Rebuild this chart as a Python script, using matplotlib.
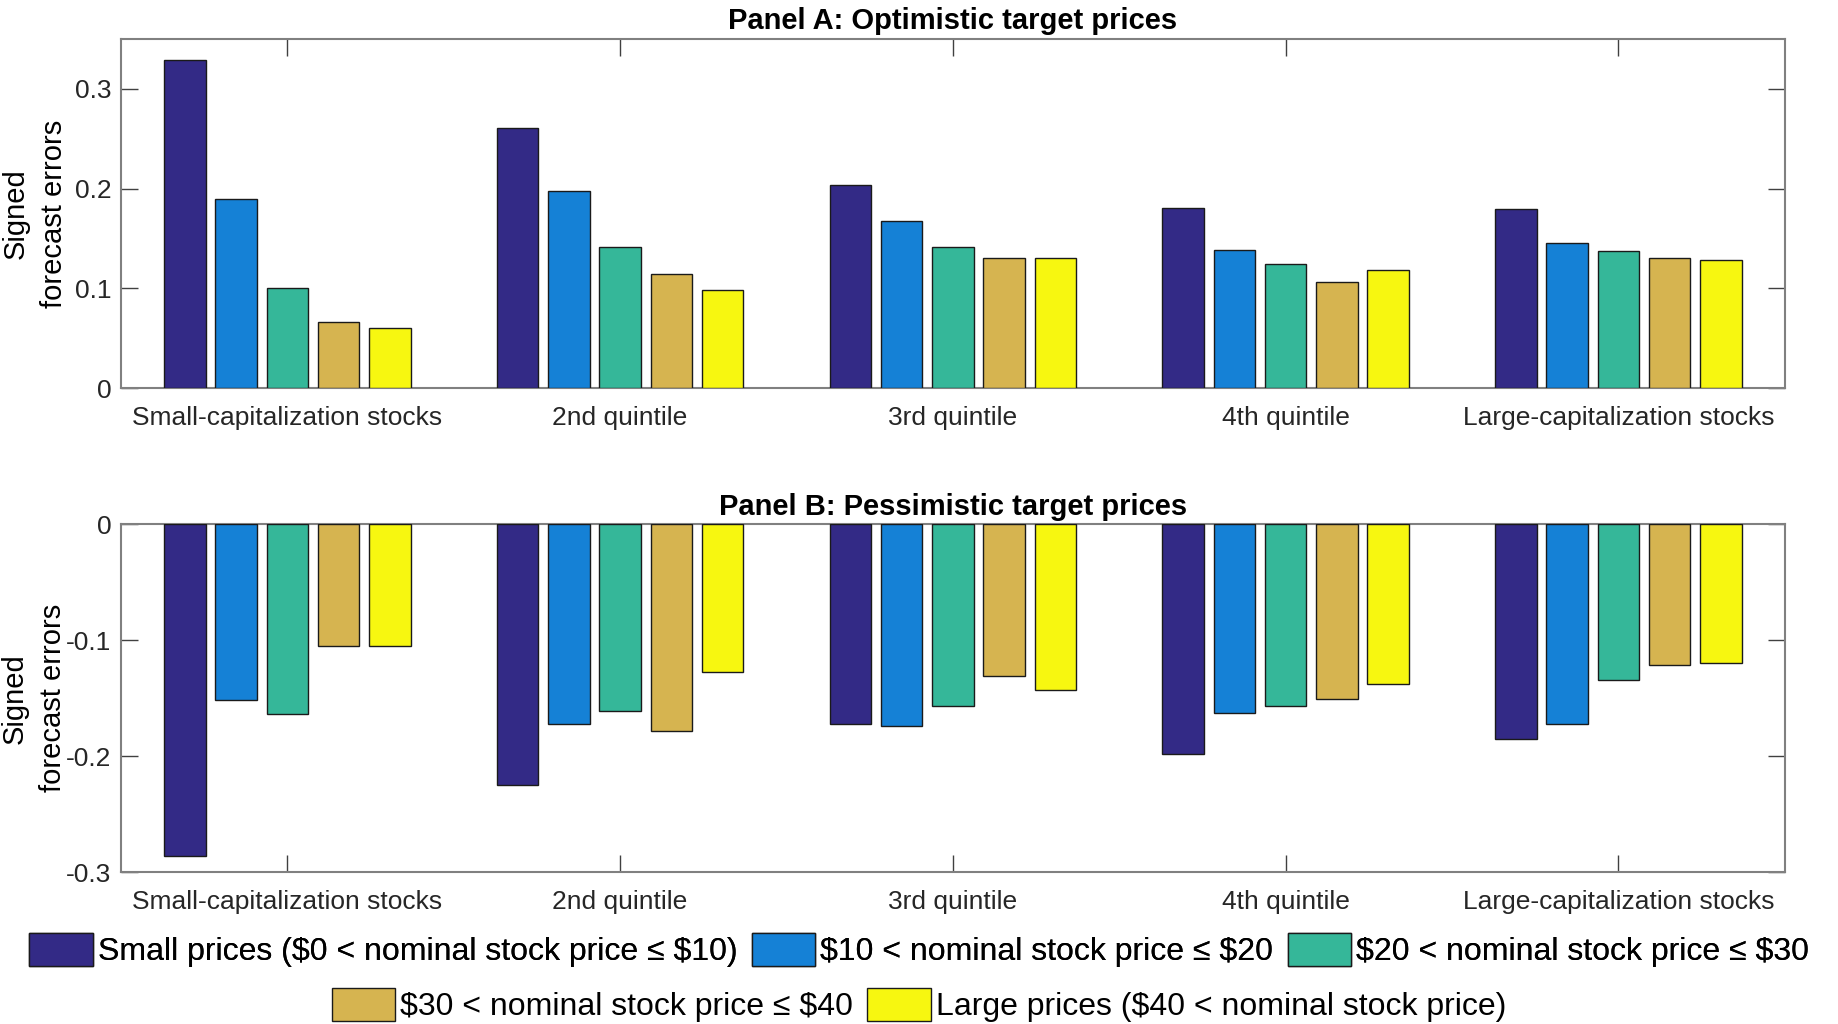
import numpy as np
import matplotlib
matplotlib.use('Agg')
import matplotlib.pyplot as plt

plt.rcParams['font.family'] = ['Liberation Sans', 'DejaVu Sans']
plt.rcParams['axes.unicode_minus'] = False

groups = ['Small-capitalization stocks', '2nd quintile', '3rd quintile',
          '4th quintile', 'Large-capitalization stocks']
series_names = [r'Small prices (\$0 < nominal stock price ≤ \$10)',
                r'\$10 < nominal stock price ≤ \$20',
                r'\$20 < nominal stock price ≤ \$30',
                r'\$30 < nominal stock price ≤ \$40',
                r'Large prices (\$40 < nominal stock price)']
colors = ['#332a86', '#1581d6', '#35b799', '#d6b450', '#f7f710']

# Panel A: optimistic target prices, one list per price bucket
opt_0_10 = [0.329, 0.261, 0.204, 0.181, 0.180]
opt_10_20 = [0.190, 0.198, 0.167, 0.138, 0.145]
opt_20_30 = [0.100, 0.141, 0.141, 0.124, 0.137]
opt_30_40 = [0.066, 0.114, 0.130, 0.106, 0.130]
opt_40_up = [0.060, 0.098, 0.130, 0.118, 0.128]

# Panel B: pessimistic target prices
pes_0_10 = [-0.286, -0.225, -0.172, -0.198, -0.185]
pes_10_20 = [-0.152, -0.172, -0.174, -0.163, -0.172]
pes_20_30 = [-0.164, -0.161, -0.157, -0.157, -0.134]
pes_30_40 = [-0.105, -0.178, -0.131, -0.151, -0.121]
pes_40_up = [-0.105, -0.127, -0.143, -0.138, -0.120]

optimistic = [opt_0_10, opt_10_20, opt_20_30, opt_30_40, opt_40_up]
pessimistic = [pes_0_10, pes_10_20, pes_20_30, pes_30_40, pes_40_up]

x = np.arange(1, len(groups) + 1)
pitch = 0.154
width = 0.125
axis_col = '#808080'

fig = plt.figure(figsize=(18.38, 10.24), dpi=100)
axA = fig.add_axes([0.0658, 0.621, 0.9052, 0.341])
axB = fig.add_axes([0.0658, 0.1484, 0.9052, 0.3396])


def draw_panel(ax, data, title, ylim, yticks, yticklabels):
    bars = []
    for i, vals in enumerate(data):
        b = ax.bar(x + (i - 2) * pitch, vals, width, color=colors[i],
                   edgecolor='#1a1a1a', linewidth=1.0, zorder=3,
                   label=series_names[i])
        bars.append(b)
    ax.set_xlim(0.5, 5.5)
    ax.set_ylim(*ylim)
    ax.set_xticks(x)
    ax.set_xticklabels(groups)
    ax.set_yticks(yticks)
    ax.set_yticklabels(yticklabels)
    ax.tick_params(axis='both', direction='in', length=12, width=1,
                   color='#404040', labelsize=19, labelcolor='#262626',
                   top=True, right=True)
    ax.tick_params(axis='x', pad=13)
    ax.tick_params(axis='y', pad=7)
    for s in ax.spines.values():
        s.set_color(axis_col)
        s.set_linewidth(1.5)
        s.set_zorder(2)
    ax.set_title(title, fontsize=21, fontweight='bold', pad=7)
    ax.set_ylabel('Signed\nforecast errors', fontsize=21, linespacing=1.45)
    return bars


barsA = draw_panel(axA, optimistic, 'Panel A: Optimistic target prices',
                   (0, 0.35), [0, 0.1, 0.2, 0.3], ['0', '0.1', '0.2', '0.3'])
draw_panel(axB, pessimistic, 'Panel B: Pessimistic target prices',
           (-0.3, 0), [-0.3, -0.2, -0.1, 0], ['-0.3', '-0.2', '-0.1', '0'])
axA.yaxis.set_label_coords(-0.032, 0.5)
axB.yaxis.set_label_coords(-0.0325, 0.5)

handles = [b.patches[0] for b in barsA]
leg_kw = dict(frameon=False, fontsize=23, handlelength=2.0, handleheight=1.25,
              handletextpad=0.15, columnspacing=0.45, borderpad=0,
              borderaxespad=0)
leg1 = fig.legend(handles[:3], series_names[:3], ncol=3, loc='center',
                  bbox_to_anchor=(0.5, 1 - 950 / 1024), **leg_kw)
fig.add_artist(leg1)
fig.legend(handles[3:], series_names[3:], ncol=2, loc='center',
           bbox_to_anchor=(0.5, 1 - 1005 / 1024), **leg_kw)

fig.savefig('out.png', dpi=100)
